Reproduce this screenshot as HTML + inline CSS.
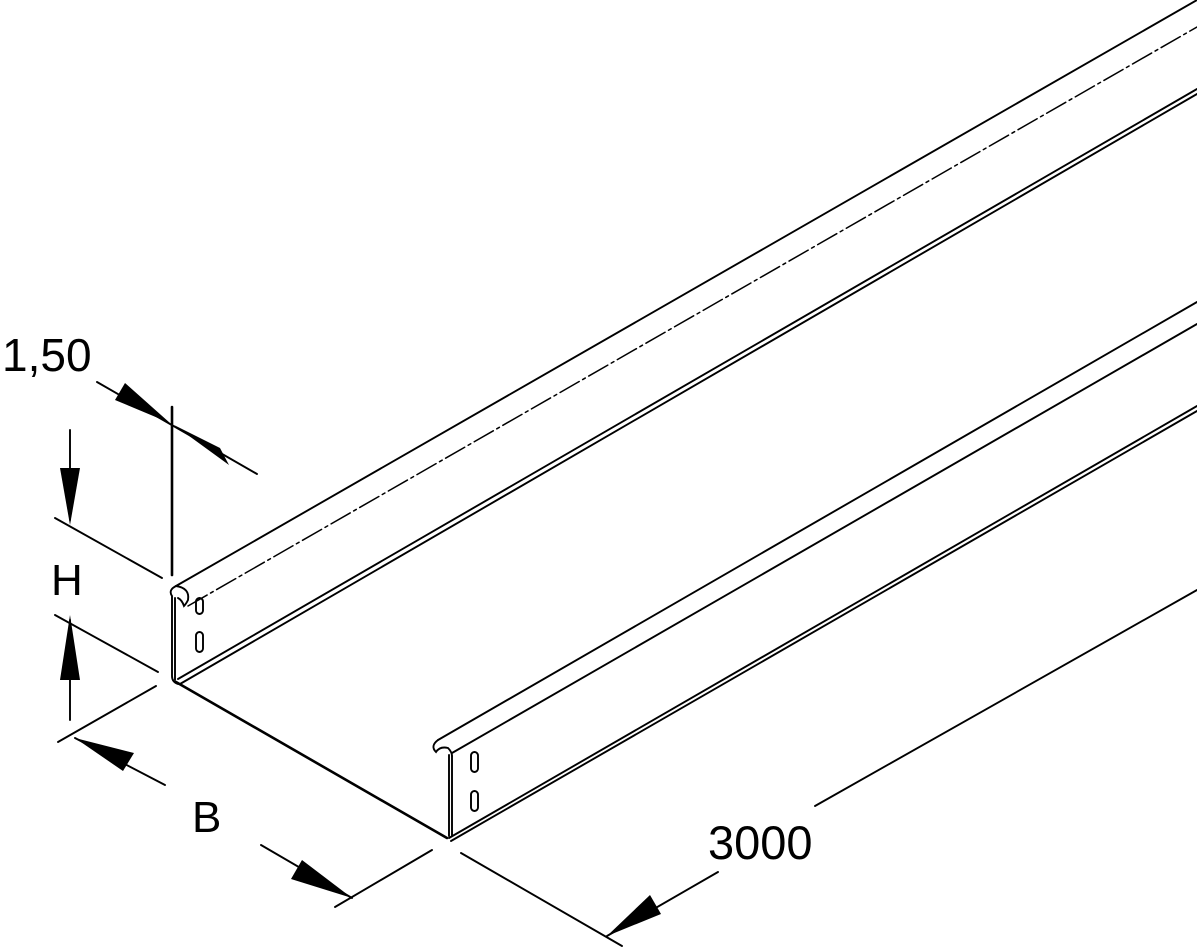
<!DOCTYPE html>
<html><head><meta charset="utf-8"><style>
html,body{margin:0;padding:0;background:#fff;}
svg{display:block}
text{font-family:"Liberation Sans",sans-serif;fill:#000}
</style></head><body>
<svg width="1197" height="947" viewBox="0 0 1197 947" xmlns="http://www.w3.org/2000/svg">
<g stroke="#000" fill="none" stroke-width="1.9" stroke-linecap="round">
<!-- left wall -->
<line x1="176" y1="586" x2="1197" y2="0"/>
<line x1="188" y1="606" x2="1197" y2="27" stroke-dasharray="22,4,3,4" stroke-width="1.5"/>
<line x1="178" y1="679" x2="1197" y2="89"/>
<line x1="180" y1="684" x2="1197" y2="94"/>
<path d="M176 586 Q168 590 172 596 L172 676 Q172 682 178 684"/>
<path d="M175 680 L175 598"/>
<path d="M176 586 Q190 588 188 600 Q186 604 184 606 Q182 600 178 598"/>
<rect x="196" y="598" width="7" height="16" rx="3.5"/>
<rect x="196" y="632" width="7" height="20" rx="3.5"/>
<!-- floor front edge -->
<line x1="176" y1="682" x2="447" y2="838" stroke-width="2.6"/>
<!-- right wall -->
<line x1="438" y1="740" x2="1197" y2="302"/>
<line x1="452" y1="753" x2="1197" y2="324"/>
<path d="M438 740 Q430 746 436 752 Q440 746 448 748 Q452 752 452 756"/>
<line x1="449" y1="755" x2="449" y2="836"/>
<line x1="452" y1="756" x2="452" y2="836"/>
<line x1="449" y1="838" x2="1197" y2="406"/>
<line x1="451" y1="841" x2="1197" y2="411"/>
<rect x="471" y="752" width="7" height="20" rx="3.5"/>
<rect x="471" y="791" width="7" height="20" rx="3.5"/>
<!-- 1,50 dim -->
<line x1="172" y1="407" x2="172" y2="575" stroke-width="2.6"/>
<line x1="97" y1="382" x2="257" y2="474"/>
<!-- H dim -->
<line x1="55" y1="518" x2="162" y2="578"/>
<line x1="55" y1="615" x2="158" y2="672"/>
<line x1="70" y1="430" x2="70" y2="520"/>
<line x1="70" y1="620" x2="70" y2="720"/>
<!-- B dim -->
<line x1="58" y1="742" x2="156" y2="686"/>
<line x1="75" y1="738" x2="165" y2="785"/>
<line x1="261" y1="845" x2="352" y2="898"/>
<line x1="335" y1="907" x2="432" y2="850"/>
<!-- 3000 dim -->
<line x1="461" y1="853" x2="622" y2="946"/>
<line x1="607" y1="936" x2="718" y2="872"/>
<line x1="815" y1="806" x2="1197" y2="590"/>
</g>
<g fill="#000">
<polygon points="170,423 115,400 125,383"/>
<polygon points="174,425 229,465 220,448"/>
<polygon points="70,525 60,468 80,468"/>
<polygon points="70,615 60,680 80,680"/>
<polygon points="75,738 134,753 123,771"/>
<polygon points="352,898 291,879 302,860"/>
<polygon points="607,936 650,895 661,914"/>
</g>
<text x="2" y="371" font-size="46">1,50</text>
<text x="51" y="595" font-size="44">H</text>
<text x="192" y="832" font-size="44">B</text>
<text x="708" y="859" font-size="47">3000</text>
</svg>
</body></html>
